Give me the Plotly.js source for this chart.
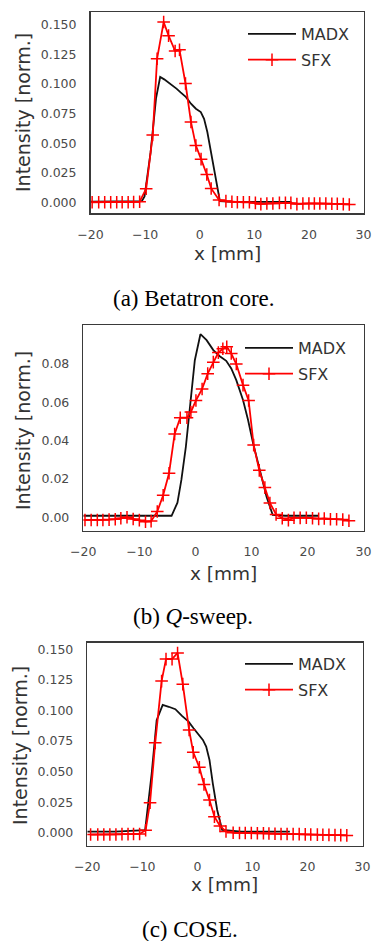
<!DOCTYPE html>
<html>
<head>
<meta charset="utf-8">
<script src="https://cdn.plot.ly/plotly-3.0.1.min.js"></script>
<style>
html,body{margin:0;padding:0;background:#fff;}
#chart{width:372px;height:941px;}
</style>
</head>
<body>
<div id="chart"></div>
<script>
// ---------- data ----------
// (a) Betatron core
var madxA_x = [-20, -15, -10.6, -10.1, -9.0, -8.0, -7.24, -6.5, -5.85, -5.0, -4.2, -3.5, -2.5, -1.6, -0.7, 0.2, 0.8, 1.4, 2.15, 2.95, 3.7, 6, 10, 13, 16.8];
var madxA_y = [0.0005, 0.0005, 0.001, 0.005, 0.042, 0.088, 0.106, 0.104, 0.1018, 0.099, 0.096, 0.093, 0.089, 0.0834, 0.0792, 0.0764, 0.0707, 0.0595, 0.0398, 0.020, 0.001, 0.0003, 0.0003, 0.0, 0.0003];
var sfxA_x = [-19.7, -18.5, -17.4, -16.3, -15.2, -14.2, -13.1, -12.1, -11.0, -9.8, -8.6, -7.8, -6.6, -5.7, -4.5, -3.7, -2.6, -1.6, -0.7, 0.25, 1.3, 2.1, 3.55, 4.8, 5.9, 6.9, 8.0, 9.1, 10.2, 11.2, 12.3, 13.4, 14.6, 15.7, 16.7, 17.8, 18.9, 20.0, 21.0, 22.0, 23.1, 24.2, 25.2, 26.3, 27.4];
var sfxA_y = [0.0, 0.0, 0.0, 0.0, 0.0, 0.0, 0.0, 0.0003, 0.0005, 0.0115, 0.057, 0.1215, 0.1525, 0.141, 0.128, 0.129, 0.1005, 0.068, 0.048, 0.0365, 0.0235, 0.0117, 0.002, 0.001, 0.0005, 0.0, 0.0, 0.0, -0.0005, -0.0015, -0.001, -0.001, -0.0005, -0.0005, -0.0005, -0.0015, -0.001, -0.001, -0.001, -0.001, -0.001, -0.0012, -0.0012, -0.0015, -0.0018];

// (b) Q-sweep
var madxB_x = [-20, -10, -4.25, -3.2, -2.5, -1.7, -1.0, -0.1, 0.9, 2.0, 3.2, 4.35, 5.5, 6.4, 7.3, 8.5, 9.4, 10.3, 11.5, 12.7, 13.8, 16, 19, 22];
var madxB_y = [0.0008, 0.0008, 0.0008, 0.0076, 0.0195, 0.0368, 0.056, 0.082, 0.0956, 0.0925, 0.0873, 0.0841, 0.0817, 0.0777, 0.0716, 0.0612, 0.0508, 0.0386, 0.0247, 0.0107, 0.0012, 0.0008, 0.0008, 0.0008];
var sfxB_x = [-19.7, -18.6, -17.5, -16.5, -15.4, -14.3, -13.3, -12.2, -11.1, -10.0, -8.9, -7.9, -6.8, -5.75, -4.7, -3.7, -2.7, -1.5, -0.8, 0.1, 1.2, 2.2, 3.2, 4.1, 4.9, 5.6, 6.4, 7.3, 8.5, 9.5, 10.4, 11.4, 12.4, 13.3, 14.4, 15.5, 16.6, 17.6, 18.7, 19.8, 20.9, 22.0, 23.0, 24.1, 25.2, 26.3, 27.4];
var sfxB_y = [-0.0014, -0.0014, -0.0014, -0.0014, -0.0012, -0.001, -0.0005, 0.0, -0.0009, -0.0015, -0.0023, -0.002, 0.003, 0.0115, 0.023, 0.0435, 0.052, 0.052, 0.055, 0.061, 0.067, 0.075, 0.081, 0.086, 0.088, 0.089, 0.0855, 0.080, 0.069, 0.061, 0.0377, 0.0245, 0.0155, 0.0075, 0.0015, -0.0005, -0.0015, -0.0002, -0.0003, -0.0002, -0.0005, -0.0008, -0.0006, -0.001, -0.001, -0.0012, -0.0018];

// (c) COSE
var madxC_x = [-20, -15, -9.5, -8.3, -7.4, -6.3, -5.2, -4.0, -2.8, -1.6, -0.7, 0.2, 1.0, 1.6, 2.2, 2.8, 3.6, 4.5, 8, 12, 16.8];
var madxC_y = [0.0008, 0.0008, 0.002, 0.0486, 0.092, 0.1045, 0.103, 0.101, 0.0955, 0.0908, 0.0854, 0.080, 0.0759, 0.0704, 0.0595, 0.0404, 0.0186, 0.0022, 0.0008, 0.0008, 0.0008];
var sfxC_x = [-19.4, -18.1, -17.0, -15.9, -14.8, -13.7, -12.6, -11.6, -10.5, -9.4, -8.6, -7.66, -6.5, -5.7, -4.6, -3.6, -2.65, -1.5, -0.75, 0.36, 1.2, 2.2, 3.1, 4.1, 5.2, 6.5, 7.65, 8.7, 9.8, 10.9, 12.0, 13.0, 14.1, 15.2, 16.3, 17.4, 18.5, 19.6, 20.6, 21.8, 22.8, 23.9, 25.0, 26.05, 27.15];
var sfxC_y = [-0.0015, -0.0015, -0.0015, -0.0015, -0.0015, -0.0012, -0.0012, -0.001, -0.001, 0.002, 0.0245, 0.0735, 0.124, 0.142, 0.142, 0.147, 0.1215, 0.084, 0.0657, 0.0535, 0.0395, 0.0268, 0.0131, 0.0055, 0.001, 0.0, -0.0002, -0.0003, -0.0003, -0.0005, -0.0005, -0.0006, -0.0008, -0.001, -0.001, -0.0012, -0.0012, -0.0014, -0.0015, -0.0016, -0.0017, -0.0018, -0.002, -0.002, -0.0022];

// tick labels
var xTickVals = [-20, -10, 0, 10, 20, 30];
var xTickText = ["\u221220", "\u221210", "0", "10", "20", "30"];
var yTickValsAC = [0, 0.025, 0.05, 0.075, 0.1, 0.125, 0.15];
var yTickTextAC = ["0.000", "0.025", "0.050", "0.075", "0.100", "0.125", "0.150"];
var yTickValsB = [0, 0.02, 0.04, 0.06, 0.08];
var yTickTextB = ["0.00", "0.02", "0.04", "0.06", "0.08"];

var seriesNames = ["MADX", "SFX"];
var captions = ["(a) Betatron core.", "(b) <i>Q</i>-sweep.", "(c) COSE."];
var xTitle = "x [mm]";
var yTitle = "Intensity [norm.]";

// ---------- layout helpers ----------
var W = 372, H = 941;
function fx(p){ return p / W; }
function fy(p){ return 1 - p / H; }

var panels = [
  {box:[90.5, 363.5, 12, 213],    yr:[-0.00905, 0.1610], tv:yTickValsAC, tt:yTickTextAC,
   mx:madxA_x, my:madxA_y, sx:sfxA_x, sy:sfxA_y, legX:243, legY:17, yT:[23,113], xT:[227,253.5], cap:[194,298]},
  {box:[83.3, 363.5, 325, 530.7], yr:[-0.0070, 0.1004],  tv:yTickValsB, tt:yTickTextB,
   mx:madxB_x, my:madxB_y, sx:sfxB_x, sy:sfxB_y, legX:240, legY:331, yT:[23,431], xT:[223,573.5], cap:[193,616]},
  {box:[87.3, 362.5, 642.7, 845.7], yr:[-0.01063, 0.1554], tv:yTickValsAC, tt:yTickTextAC,
   mx:madxC_x, my:madxC_y, sx:sfxC_x, sy:sfxC_y, legX:240, legY:647, yT:[20,746], xT:[224,884.5], cap:[190,929]}
];

var traces = [];
var layout = {
  width: W, height: H,
  margin: {l:0, r:0, t:0, b:0},
  paper_bgcolor: "#fff", plot_bgcolor: "#fff",
  showlegend: true,
  font: {family: "DejaVu Sans", color: "#333"},
  annotations: []
};

var tickFont = {family: "DejaVu Sans", size: 12.5, color: "#4a4a4a"};

panels.forEach(function(p, i){
  var n = i === 0 ? "" : String(i + 1);
  var xa = "x" + n, ya = "y" + n;
  var leg = "legend" + n;
  traces.push({
    x: p.mx, y: p.my, xaxis: xa, yaxis: ya, legend: leg, legendgroup: "m" + i,
    name: seriesNames[0], type: "scatter", mode: "lines",
    line: {color: "#111", width: 1.8}
  });
  traces.push({
    x: p.sx, y: p.sy, xaxis: xa, yaxis: ya, legend: leg, legendgroup: "s" + i,
    name: seriesNames[1], type: "scatter", mode: "lines+markers",
    line: {color: "#ff0000", width: 1.8},
    marker: {symbol: "cross-thin", size: 9, line: {color: "#ff0000", width: 1.5}, color: "#ff0000"}
  });
  layout["xaxis" + n] = {
    domain: [fx(p.box[0]), fx(p.box[1])], range: [-20, 30], anchor: ya,
    tickmode: "array", tickvals: xTickVals, ticktext: xTickText,
    ticks: "outside", ticklen: 9, tickcolor: "rgba(0,0,0,0)",
    ticklabeloverflow: "allow",
    tickfont: tickFont, showgrid: false, zeroline: false,
    showline: true, mirror: true, linecolor: "#3a3a3a", linewidth: 1.5
  };
  layout["yaxis" + n] = {
    domain: [fy(p.box[3]), fy(p.box[2])], range: p.yr, anchor: xa,
    tickmode: "array", tickvals: p.tv, ticktext: p.tt,
    ticks: "outside", ticklen: 10, tickcolor: "rgba(0,0,0,0)",
    ticklabeloverflow: "allow",
    tickfont: tickFont, showgrid: false, zeroline: false,
    showline: true, mirror: true, linecolor: "#3a3a3a", linewidth: 1.5
  };
  layout[leg] = {
    x: fx(p.legX), y: fy(p.legY), xanchor: "left", yanchor: "top",
    bgcolor: "rgba(0,0,0,0)", borderwidth: 0,
    font: {family: "DejaVu Sans", size: 16, color: "#333"},
    itemwidth: 48, tracegroupgap: 2, traceorder: "grouped"
  };
  layout.annotations.push({
    text: yTitle, textangle: -90, xref: "paper", yref: "paper",
    x: fx(p.yT[0]), y: fy(p.yT[1]), xanchor: "center", yanchor: "middle",
    showarrow: false, font: {family: "DejaVu Sans", size: 19, color: "#333"}
  });
  layout.annotations.push({
    text: xTitle, xref: "paper", yref: "paper",
    x: fx(p.xT[0]), y: fy(p.xT[1]), xanchor: "center", yanchor: "middle",
    showarrow: false, font: {family: "DejaVu Sans", size: 18.5, color: "#333"}
  });
  layout.annotations.push({
    text: captions[i], xref: "paper", yref: "paper",
    x: fx(p.cap[0]), y: fy(p.cap[1]), xanchor: "center", yanchor: "middle",
    showarrow: false, font: {family: "Liberation Serif", size: 23, color: "#000"}
  });
});

Plotly.newPlot("chart", traces, layout, {staticPlot: true, displayModeBar: false});
</script>
</body>
</html>
